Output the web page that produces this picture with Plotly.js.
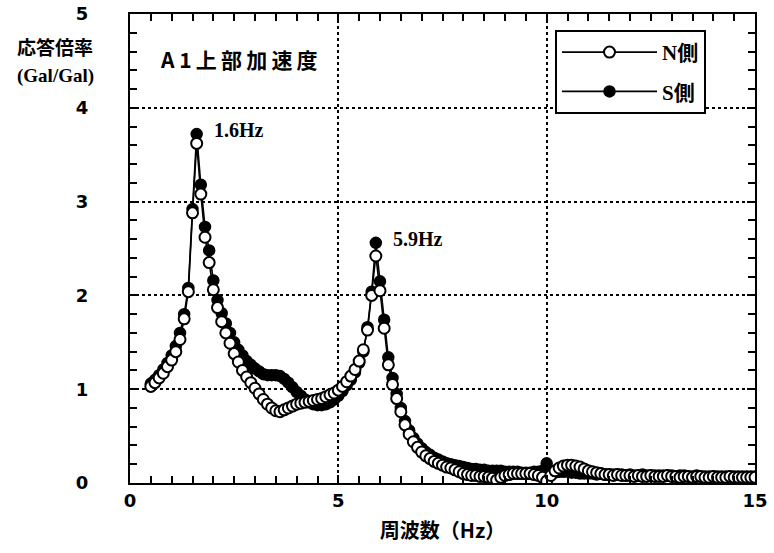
<!DOCTYPE html>
<html>
<head>
<meta charset="utf-8">
<script src="https://cdn.plot.ly/plotly-3.0.1.min.js"></script>
<style>html,body{margin:0;padding:0;background:#fff;}#chart{width:774px;height:553px;}</style>
</head>
<body>
<div id="chart"></div>
<script>
// Frequency (Hz)
const freq = [
 0.5,0.6,0.7,0.8,0.9,1.0,1.1,1.2,1.3,1.4,1.5,1.6,1.7,1.8,1.9,2.0,2.1,2.2,2.3,2.4,
 2.5,2.6,2.7,2.8,2.9,3.0,3.1,3.2,3.3,3.4,3.5,3.6,3.7,3.8,3.9,4.0,4.1,4.2,4.3,4.4,
 4.5,4.6,4.7,4.8,4.9,5.0,5.1,5.2,5.3,5.4,5.5,5.6,5.7,5.8,5.9,6.0,6.1,6.2,6.3,6.4,
 6.5,6.6,6.7,6.8,6.9,7.0,7.1,7.2,7.3,7.4,7.5,7.6,7.7,7.8,7.9,8.0,8.1,8.2,8.3,8.4,
 8.5,8.6,8.7,8.8,8.9,9.0,9.1,9.2,9.3,9.4,9.5,9.6,9.7,9.8,9.9,10.0,10.1,10.2,10.3,10.4,
 10.5,10.6,10.7,10.8,10.9,11.0,11.1,11.2,11.3,11.4,11.5,11.6,11.7,11.8,11.9,12.0,12.1,12.2,12.3,12.4,
 12.5,12.6,12.7,12.8,12.9,13.0,13.1,13.2,13.3,13.4,13.5,13.6,13.7,13.8,13.9,14.0,14.1,14.2,14.3,14.4,
 14.5,14.6,14.7,14.8,14.9,15.0
];
// N側 (open circles)
const nSide = [
 1.03,1.07,1.12,1.17,1.24,1.31,1.40,1.53,1.75,2.04,2.88,3.62,3.08,2.62,2.35,2.06,1.87,1.72,1.60,1.49,
 1.38,1.29,1.20,1.13,1.07,1.01,0.95,0.89,0.84,0.80,0.77,0.76,0.78,0.80,0.82,0.84,0.85,0.86,0.87,0.88,
 0.89,0.90,0.92,0.94,0.96,0.99,1.03,1.08,1.14,1.21,1.30,1.42,1.63,2.00,2.42,2.05,1.65,1.26,1.05,0.90,
 0.76,0.62,0.52,0.44,0.38,0.33,0.29,0.26,0.23,0.21,0.19,0.17,0.16,0.14,0.12,0.10,0.09,0.08,0.08,0.07,
 0.07,0.06,0.05,0.03,0.06,0.08,0.09,0.10,0.10,0.10,0.10,0.10,0.09,0.08,0.06,0.02,0.08,0.13,0.16,0.18,
 0.19,0.19,0.18,0.17,0.15,0.13,0.12,0.11,0.10,0.09,0.09,0.08,0.09,0.08,0.08,0.08,0.07,0.08,0.07,0.07,
 0.08,0.07,0.07,0.07,0.08,0.07,0.07,0.06,0.07,0.07,0.06,0.07,0.07,0.06,0.06,0.07,0.06,0.06,0.06,0.07,
 0.06,0.06,0.06,0.06,0.06,0.06
];
// S側 (filled circles)
const sSide = [
 1.06,1.10,1.15,1.21,1.28,1.36,1.46,1.60,1.80,2.08,2.92,3.72,3.18,2.73,2.48,2.16,1.95,1.81,1.70,1.60,
 1.50,1.42,1.36,1.30,1.26,1.22,1.19,1.16,1.15,1.15,1.15,1.14,1.11,1.07,1.02,0.97,0.93,0.89,0.86,0.84,
 0.83,0.83,0.84,0.86,0.89,0.93,0.98,1.04,1.10,1.18,1.28,1.40,1.66,2.04,2.56,2.15,1.74,1.34,1.12,0.95,
 0.80,0.66,0.56,0.48,0.42,0.37,0.33,0.30,0.27,0.25,0.23,0.21,0.20,0.19,0.18,0.17,0.16,0.15,0.15,0.14,
 0.14,0.13,0.13,0.13,0.13,0.12,0.12,0.12,0.12,0.11,0.11,0.11,0.12,0.12,0.13,0.21,0.12,0.11,0.12,0.12,
 0.12,0.11,0.11,0.10,0.10,0.10,0.10,0.09,0.10,0.09,0.09,0.09,0.09,0.09,0.08,0.09,0.08,0.08,0.09,0.08,
 0.08,0.08,0.08,0.08,0.08,0.08,0.07,0.08,0.08,0.07,0.07,0.08,0.07,0.07,0.07,0.07,0.07,0.07,0.07,0.07,
 0.07,0.07,0.07,0.07,0.07,0.07
];
const seriesNames = ['N側', 'S側'];
const peakLabels = [{f: 1.6, v: 3.72, text: '1.6Hz'}, {f: 5.9, v: 2.56, text: '5.9Hz'}];
const xRange = [0, 15];
const yRange = [0, 5];

const serif = '"Liberation Serif", "Noto Sans CJK JP", serif';
const cjk = '"Noto Sans CJK JP", "Liberation Serif", sans-serif';
const tickFont = {family: '"DejaVu Sans", "Liberation Sans", sans-serif', size: 18, color: '#000', weight: 'bold'};

const traceS = {
  x: freq, y: sSide, name: seriesNames[1], mode: 'lines+markers', type: 'scatter',
  line: {color: '#000', width: 1.6},
  marker: {symbol: 'circle', size: 11, color: '#000', line: {color: '#000', width: 1.5}},
  legendgroup: 'S', legendrank: 2
};
const traceN = {
  x: freq, y: nSide, name: seriesNames[0], mode: 'lines+markers', type: 'scatter',
  line: {color: '#000', width: 1.6},
  marker: {symbol: 'circle', size: 11, color: '#fff', line: {color: '#000', width: 2}},
  legendgroup: 'N', legendrank: 1
};

const layout = {
  width: 774, height: 553,
  margin: {l: 130, r: 19, t: 14, b: 70},
  showlegend: true,
  xaxis: {
    range: xRange, dtick: 5,
    ticks: 'inside', ticklen: 8, tickwidth: 2, tickcolor: 'black', mirror: 'ticks', showline: true,
    linecolor: 'black', linewidth: 2,
    minor: {dtick: 0.5, ticks: 'inside', ticklen: 7, tickcolor: 'black', tickwidth: 2},
    showgrid: true, gridcolor: 'black', gridwidth: 2, griddash: 'dot',
    zeroline: false, tickfont: tickFont,
    title: {text: '周波数（Hz）', font: {family: cjk, size: 20, color: '#000', weight: 'bold'}, standoff: 14}
  },
  yaxis: {
    range: yRange, dtick: 1,
    ticks: 'inside', ticklen: 8, tickwidth: 2, tickcolor: 'black', mirror: 'ticks', showline: true,
    linecolor: 'black', linewidth: 2,
    minor: {dtick: 0.2, ticks: 'inside', ticklen: 7, tickcolor: 'black', tickwidth: 2},
    showgrid: true, gridcolor: 'black', gridwidth: 2, griddash: 'dot',
    zeroline: false, tickfont: tickFont,
    ticksuffix: '\u2003\u2003'
  },
  legend: {
    x: 0.68, y: 0.966, xanchor: 'left', yanchor: 'top',
    bgcolor: '#fff', bordercolor: '#000', borderwidth: 2,
    font: {family: serif, size: 21, color: '#000', weight: 'bold'},
    itemwidth: 95, traceorder: 'grouped', tracegroupgap: 9
  },
  annotations: [
    {xref: 'paper', yref: 'paper', x: -0.12, y: 0.93, xanchor: 'center', yanchor: 'middle',
     text: '応答倍率', showarrow: false, font: {family: cjk, size: 19, color: '#000', weight: 'bold'}},
    {xref: 'paper', yref: 'paper', x: -0.12, y: 0.868, xanchor: 'center', yanchor: 'middle',
     text: '(Gal/Gal)', showarrow: false, font: {family: serif, size: 19, color: '#000', weight: 'bold'}},
    {xref: 'paper', yref: 'paper', x: 0.044, y: 0.903, xanchor: 'left', yanchor: 'middle',
     text: 'A 1\u2009上\u2009部\u2009加\u2009速\u2009度', showarrow: false,
     font: {family: cjk, size: 21, color: '#000', weight: 'bold'}}
  ].concat(peakLabels.map(p => ({
     x: p.f, y: p.v, xref: 'x', yref: 'y', xanchor: 'left', yanchor: 'middle',
     xshift: 15, yshift: 4, text: p.text, showarrow: false,
     font: {family: serif, size: 20, color: '#000', weight: 'bold'}
  })))
};

Plotly.newPlot('chart', [traceS, traceN], layout, {displayModeBar: false});
</script>
</body>
</html>
